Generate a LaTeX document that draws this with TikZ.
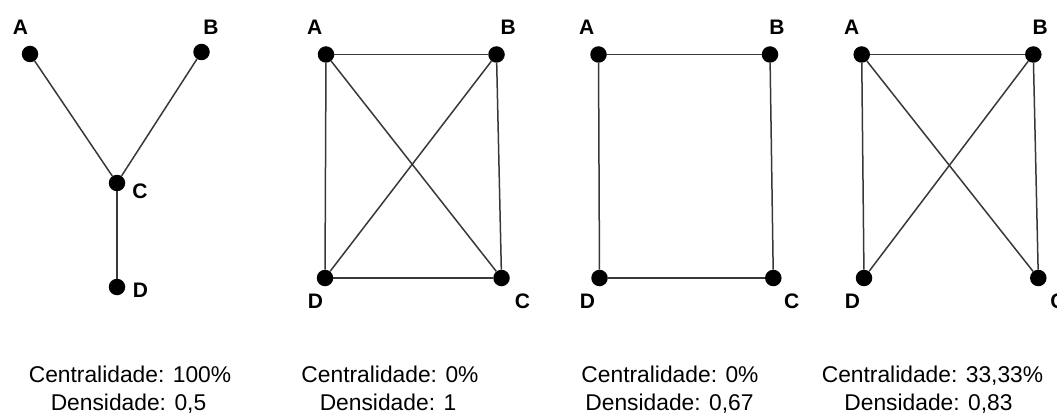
\documentclass[tikz,border=0pt]{standalone}
\usepackage{fontspec}
\setmainfont{Liberation Sans}
\begin{document}
\begin{tikzpicture}[x=1pt,y=-1pt,
  vert/.style={circle,fill=black,inner sep=0pt,minimum size=16.5pt},
  edge/.style={draw=black!78,line width=1.5pt},
  lab/.style={font=\fontsize{21}{21}\selectfont\bfseries,anchor=base,inner sep=0pt},
  captext/.style={font=\fontsize{22.8}{26}\selectfont,anchor=base,inner sep=0pt}]
\useasboundingbox (0,0) rectangle (1057,417);
% Graph 1
\node[vert] (a1) at (30,54) {};
\node[vert] (b1) at (201.5,52) {};
\node[vert] (c1) at (117,183) {};
\node[vert] (d1) at (117,287) {};
\draw[edge] (a1) -- (c1);
\draw[edge] (b1) -- (c1);
\draw[edge] (c1) -- (d1);
\node[lab] (la1) at (20.5,35) {A};
\node[lab] (lb1) at (211,35) {B};
\node[lab] (lc1) at (140,198) {C};
\node[lab] (ld1) at (140.5,297.5) {D};
% Graph 2
\node[vert] (a2) at (326,54.5) {};
\node[vert] (b2) at (496.5,54.5) {};
\node[vert] (c2) at (501.5,278) {};
\node[vert] (d2) at (325,278) {};
\draw[edge] (a2) -- (b2);
\draw[edge] (a2) -- (c2);
\draw[edge] (a2) -- (d2);
\draw[edge] (b2) -- (c2);
\draw[edge] (b2) -- (d2);
\draw[edge] (c2) -- (d2);
\node[lab] (la2) at (314.7,35) {A};
\node[lab] (lb2) at (508.3,35) {B};
\node[lab] (lc2) at (522.5,308) {C};
\node[lab] (ld2) at (315.5,308) {D};
% Graph 3
\node[vert] (a3) at (598.5,54.5) {};
\node[vert] (b3) at (770,54.5) {};
\node[vert] (c3) at (773.3,278) {};
\node[vert] (d3) at (599.5,278) {};
\draw[edge] (a3) -- (b3);
\draw[edge] (b3) -- (c3);
\draw[edge] (c3) -- (d3);
\draw[edge] (d3) -- (a3);
\node[lab] (la3) at (586.7,35) {A};
\node[lab] (lb3) at (777,35) {B};
\node[lab] (lc3) at (791.8,308) {C};
\node[lab] (ld3) at (587.5,308) {D};
% Graph 4
\node[vert] (a4) at (861.7,54.5) {};
\node[vert] (b4) at (1033.3,54.5) {};
\node[vert] (c4) at (1038.3,278) {};
\node[vert] (d4) at (864,278) {};
\draw[edge] (a4) -- (b4);
\draw[edge] (a4) -- (c4);
\draw[edge] (a4) -- (d4);
\draw[edge] (b4) -- (c4);
\draw[edge] (b4) -- (d4);
\node[lab] (la4) at (851.7,35) {A};
\node[lab] (lb4) at (1040.3,35) {B};
\node[lab] (lc4) at (1058,308) {C};
\node[lab] (ld4) at (852.5,308) {D};
% Captions
\node[captext] (t1a) at (130,382) {Centralidade: 100\%};
\node[captext] (t1b) at (128.5,410) {Densidade: 0,5};
\node[captext] (t2a) at (390,382) {Centralidade: 0\%};
\node[captext] (t2b) at (388,410) {Densidade: 1};
\node[captext] (t3a) at (670,382) {Centralidade: 0\%};
\node[captext] (t3b) at (669.5,410) {Densidade: 0,67};
\node[captext] (t4a) at (932.5,382) {Centralidade: 33,33\%};
\node[captext] (t4b) at (928.5,410) {Densidade: 0,83};
\end{tikzpicture}
\end{document}
